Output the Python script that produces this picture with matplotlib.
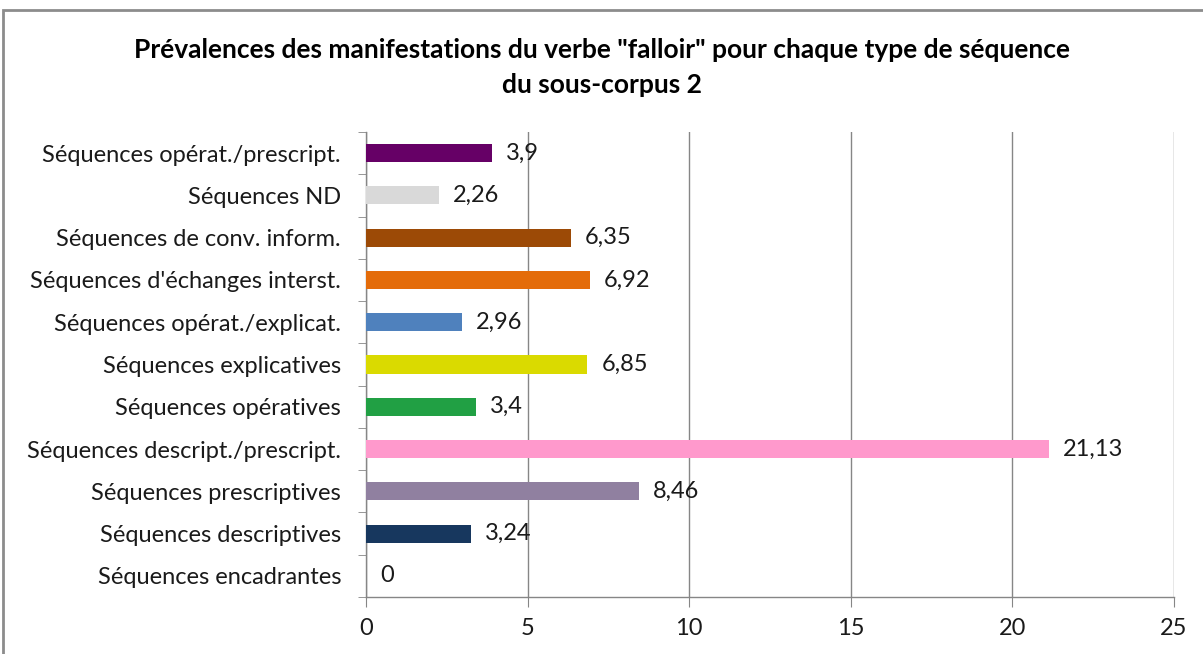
import matplotlib
matplotlib.use("Agg")
import matplotlib.pyplot as plt
from matplotlib.patches import Rectangle
from matplotlib.ticker import FixedLocator

categories = [
    "Séquences encadrantes",
    "Séquences descriptives",
    "Séquences prescriptives",
    "Séquences descript./prescript.",
    "Séquences opératives",
    "Séquences explicatives",
    "Séquences opérat./explicat.",
    "Séquences d'échanges interst.",
    "Séquences de conv. inform.",
    "Séquences ND",
    "Séquences opérat./prescript.",
]
values = [0, 3.24, 8.46, 21.13, 3.4, 6.85, 2.96, 6.92, 6.35, 2.26, 3.9]
labels = ["0", "3,24", "8,46", "21,13", "3,4", "6,85", "2,96", "6,92", "6,35", "2,26", "3,9"]
colors = ["#FFFFFF", "#17375E", "#9080A0", "#FF99CC", "#21A044", "#DADA00",
          "#4F81BD", "#E46C0A", "#9C4A06", "#D9D9D9", "#660066"]
xticks = [0, 5, 10, 15, 20, 25]

plt.rcParams['font.family'] = ['Lato', 'DejaVu Sans']

W, H = 1203, 654
fig = plt.figure(figsize=(W / 100, H / 100), dpi=100)
ax = fig.add_axes([366 / W, 1 - 597 / H, (1174 - 366) / W, (597 - 132) / H])

y = list(range(len(categories)))
ax.barh(y, values, height=0.43, color=colors, edgecolor="none", zorder=3)
for yi, v, lab in zip(y, values, labels):
    ax.annotate(lab, (v, yi), xytext=(10, 0), textcoords="offset points",
                va="center", ha="left", fontsize=17, color="#1a1a1a")

ax.set_xlim(0, 25)
ax.set_ylim(-0.5, len(categories) - 0.5)
ax.set_xticks(xticks)
ax.set_xticklabels([str(t) for t in xticks], fontsize=17, color="#1a1a1a")
ax.set_yticks(y)
ax.set_yticklabels(categories, fontsize=17, color="#1a1a1a")
ax.yaxis.set_minor_locator(FixedLocator([i - 0.5 for i in range(len(categories) + 1)]))
ax.tick_params(axis="y", which="major", length=0, pad=18)
ax.tick_params(axis="y", which="minor", length=6, color="#868686", direction="out")
ax.tick_params(axis="x", length=7, color="#868686", direction="out", pad=8)
ax.grid(axis="x", color="#868686", linewidth=1, zorder=0)
for s in ["top", "right"]:
    ax.spines[s].set_visible(False)
for s in ["left", "bottom"]:
    ax.spines[s].set_color("#868686")
    ax.spines[s].set_linewidth(1)

fig.text(0.5, 1 - 50 / H, 'Prévalences des manifestations du verbe "falloir" pour chaque type de séquence',
         ha="center", va="center", fontsize=19, fontweight="bold")
fig.text(0.5, 1 - 85 / H, "du sous-corpus 2", ha="center", va="center",
         fontsize=19, fontweight="bold")

fig.patches.append(Rectangle((3 / W, -0.1), 1.2, 1 - 10 / H + 0.1, transform=fig.transFigure,
                             fill=False, edgecolor="#8c8c8c", linewidth=2))

fig.savefig("out.png", dpi=100)
